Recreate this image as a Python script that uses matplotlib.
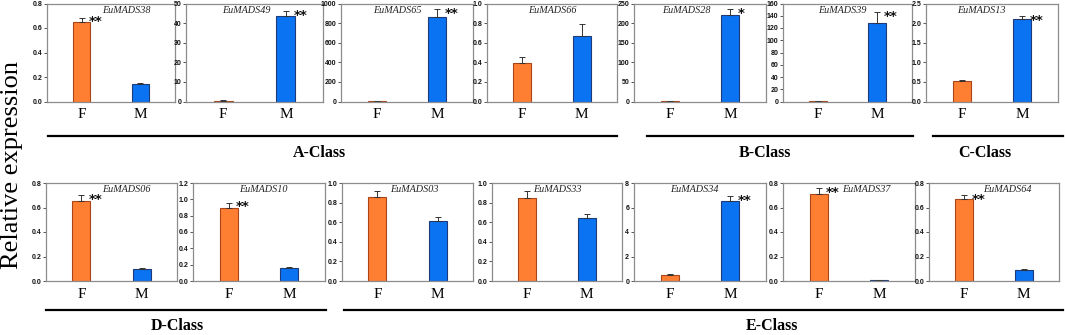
import matplotlib
matplotlib.use("Agg")
import matplotlib.pyplot as plt

# top row genes (A, B, C class)
genes_top = ["EuMADS38", "EuMADS49", "EuMADS65", "EuMADS66", "EuMADS28", "EuMADS39", "EuMADS13"]
f_top = [0.645, 0.5, 2, 0.39, 0.5, 0.5, 0.52]
m_top = [0.145, 43.5, 860, 0.67, 220, 128, 2.1]
f_err_top = [0.04, 0.1, 1, 0.06, 0.1, 0.2, 0.04]
m_err_top = [0.005, 2.5, 85, 0.12, 15, 18, 0.07]
ymax_top = [0.8, 50, 1000, 1.0, 250, 160, 2.5]
ystep_top = [0.2, 10, 200, 0.2, 50, 20, 0.5]
sig_top = [("F", "**"), ("M", "**"), ("M", "**"), None, ("M", "*"), ("M", "**"), ("M", "**")]

# bottom row genes (D, E class)
genes_bot = ["EuMADS06", "EuMADS10", "EuMADS03", "EuMADS33", "EuMADS34", "EuMADS37", "EuMADS64"]
f_bot = [0.65, 0.89, 0.855, 0.845, 0.5, 0.71, 0.67]
m_bot = [0.095, 0.16, 0.61, 0.645, 6.5, 0.008, 0.09]
f_err_bot = [0.05, 0.07, 0.06, 0.07, 0.05, 0.05, 0.03]
m_err_bot = [0.015, 0.01, 0.04, 0.035, 0.45, 0.003, 0.005]
ymax_bot = [0.8, 1.2, 1.0, 1.0, 8, 0.8, 0.8]
ystep_bot = [0.2, 0.2, 0.2, 0.2, 2, 0.2, 0.2]
sig_bot = [("F", "**"), ("F", "**"), None, None, ("M", "**"), ("F", "**"), ("F", "**")]

classes_top = ["A-Class", "B-Class", "C-Class"]
classes_bot = ["D-Class", "E-Class"]
sexes = ["F", "M"]

# layout in pixels
W, H = 1065, 335
left_top = [47, 186, 341, 487, 634, 783, 926]
right_top = [175, 323, 473, 617, 766, 912, 1058]
left_bot = [46, 193, 342, 492, 634, 783, 929]
right_bot = [177, 325, 473, 622, 766, 915, 1059]
title_x_top = [0.62, 0.44, 0.43, 0.5, 0.40, 0.46, 0.42]
title_x_bot = [0.61, 0.53, 0.55, 0.5, 0.46, 0.63, 0.6]

ORANGE = "#FF7F32"
BLUE = "#0A73F2"
SERIF = ["Liberation Serif", "DejaVu Serif"]

fig = plt.figure(figsize=(W / 100, H / 100), dpi=100)


def draw_panel(x0, x1, ytop, ybot, gene, fv, mv, fe, me, ymax, ystep, sig, tx):
    ax = fig.add_axes([x0 / W, 1 - ybot / H, (x1 - x0) / W, (ybot - ytop) / H])
    pos = [0, 1]
    ax.bar(pos[0], fv, width=0.3, color=ORANGE, edgecolor="#A8461A", linewidth=0.8,
           yerr=[[0], [fe]], error_kw=dict(ecolor="#333333", elinewidth=0.7, capsize=2, capthick=0.7))
    ax.bar(pos[1], mv, width=0.3, color=BLUE, edgecolor="#1F3C78", linewidth=0.8,
           yerr=[[0], [me]], error_kw=dict(ecolor="#333333", elinewidth=0.7, capsize=2, capthick=0.7))
    ax.set_xlim(-0.59, 1.59)
    ax.set_ylim(0, ymax)
    n = int(round(ymax / ystep))
    ticks = [i * ystep for i in range(n + 1)]
    ax.set_yticks(ticks)
    if ystep < 1:
        ax.set_yticklabels(["%.1f" % t for t in ticks])
    else:
        ax.set_yticklabels(["%d" % t for t in ticks])
    ax.tick_params(axis="y", labelsize=5, length=2, width=0.5, pad=1.5, colors="#111111")
    for lab in ax.get_yticklabels():
        lab.set_fontweight("bold")
        lab.set_family(["Liberation Sans", "DejaVu Sans"])
    ax.set_xticks(pos)
    ax.set_xticklabels(sexes, family=SERIF, fontsize=11)
    ax.tick_params(axis="x", length=0, pad=5)
    for sp in ax.spines.values():
        sp.set_color("#8c8c8c")
        sp.set_linewidth(0.9)
    ax.text(tx, 0.93, gene, transform=ax.transAxes, ha="center", va="center",
            family=SERIF, style="italic", fontsize=7.3, color="#222222")
    if sig is not None:
        idx = sexes.index(sig[0])
        val = [fv, mv][idx] + [fe, me][idx]
        ax.annotate(sig[1], (pos[idx] + 0.12, val), xytext=(0, -3), textcoords="offset points",
                    ha="left", va="center", fontsize=9.5, fontweight="bold", color="#111111")
    return ax


for i, g in enumerate(genes_top):
    draw_panel(left_top[i], right_top[i], 3.5, 101.5, g, f_top[i], m_top[i],
               f_err_top[i], m_err_top[i], ymax_top[i], ystep_top[i], sig_top[i], title_x_top[i])

for i, g in enumerate(genes_bot):
    draw_panel(left_bot[i], right_bot[i], 183, 281, g, f_bot[i], m_bot[i],
               f_err_bot[i], m_err_bot[i], ymax_bot[i], ystep_bot[i], sig_bot[i], title_x_bot[i])

# class underlines and labels
top_lines = [(48, 617), (647, 913), (933, 1063)]
top_label_x = [319, 765, 985]
bot_lines = [(46, 326), (344, 1063)]
bot_label_x = [177, 772]

for (a, b), lx, name in zip(top_lines, top_label_x, classes_top):
    fig.add_artist(plt.Line2D([a / W, b / W], [1 - 136 / H] * 2, color="black", linewidth=1.6))
    fig.text(lx / W, 1 - 153 / H, name, ha="center", va="center", family=SERIF,
             fontsize=11.5, fontweight="bold")

for (a, b), lx, name in zip(bot_lines, bot_label_x, classes_bot):
    fig.add_artist(plt.Line2D([a / W, b / W], [1 - 310 / H] * 2, color="black", linewidth=1.6))
    fig.text(lx / W, 1 - 326 / H, name, ha="center", va="center", family=SERIF,
             fontsize=11.5, fontweight="bold")

fig.text(12 / W, 1 - 165 / H, "Relative expression", rotation=90, ha="center", va="center",
         family=SERIF, fontsize=19)

fig.savefig("out.png", dpi=100)
plt.close(fig)
